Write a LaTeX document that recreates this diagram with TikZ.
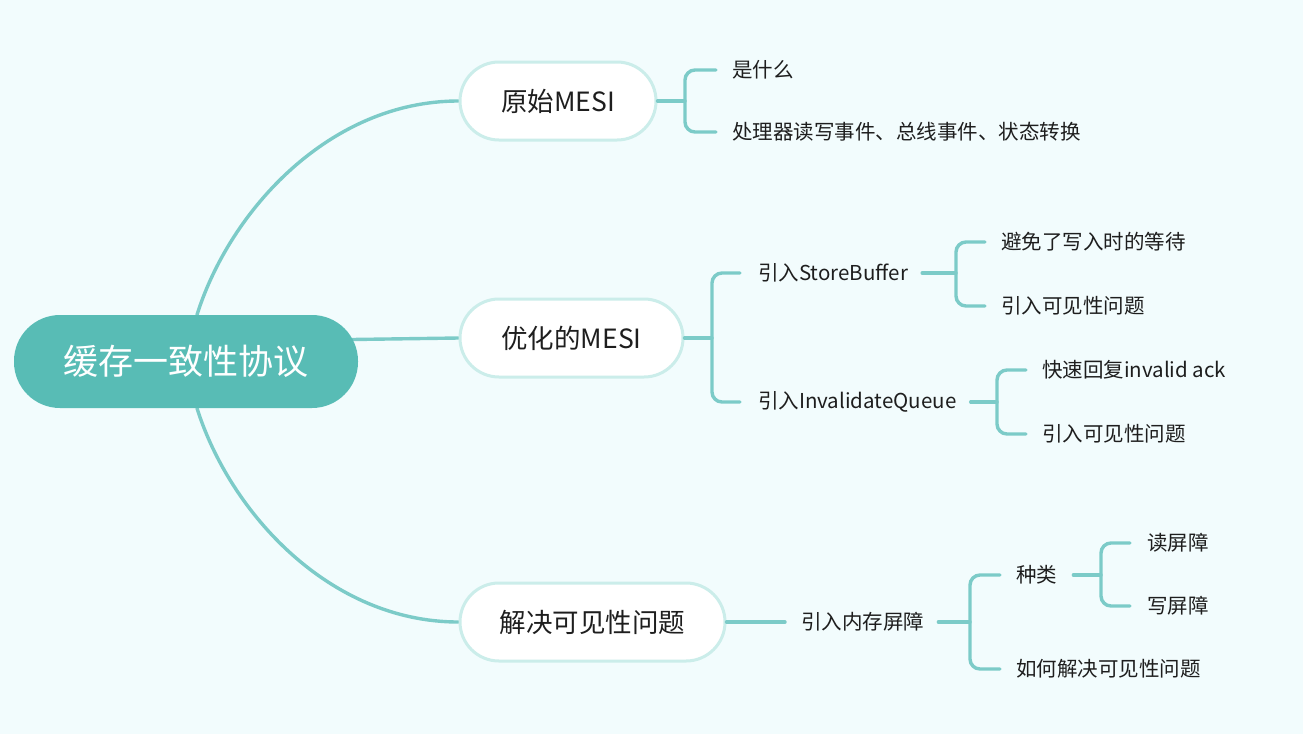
\documentclass[tikz,border=0pt]{standalone}
\usepackage{fontspec}
\setmainfont{Noto Sans CJK SC}
\definecolor{bgc}{HTML}{F2FCFD}
\definecolor{linec}{HTML}{7CCBC8}
\definecolor{rootc}{HTML}{58BCB5}
\definecolor{ovalc}{HTML}{CBEDEA}
\definecolor{txtc}{HTML}{1E1E1E}
\pgfdeclarelayer{back}
\pgfdeclarelayer{mid}
\pgfsetlayers{back,mid,main}
\tikzset{
  conn/.style={draw=linec, line width=3.4pt, line cap=round},
  brk/.style={conn, rounded corners=10pt},
  rootbox/.style={fill=rootc, rounded corners=46pt, minimum width=344pt, minimum height=93pt, inner sep=0pt, text=white, font=\fontsize{35}{40}\selectfont},
  mainbox/.style={draw=ovalc, line width=3pt, fill=white, rounded corners=39pt, minimum height=78pt, inner sep=0pt, text=txtc, font=\fontsize{26.5}{30}\selectfont},
  leaf/.style={anchor=west, inner sep=0pt, text=txtc, font=\fontsize{20.5}{24}\selectfont}
}
\begin{document}
\begin{tikzpicture}[x=1pt,y=-1pt]
\begin{pgfonlayer}{back}
\fill[bgc] (0,0) rectangle (1303,734);
\end{pgfonlayer}
\useasboundingbox (0,0) rectangle (1303,734);

% root and main nodes
\node[rootbox] (root) at (186,361.5) {缓存一致性协议};
\node[mainbox, minimum width=196pt] (n1) at (558,101) {原始MESI};
\node[mainbox, minimum width=223pt] (n2) at (571.5,338) {优化的MESI};
\node[mainbox, minimum width=265pt] (n3) at (592.5,622) {解决可见性问题};

% root connectors
\begin{pgfonlayer}{mid}
\draw[conn] ([xshift=11pt]root.north) .. controls (230,210) and (330,101) .. (n1.west);
\draw[conn] ([xshift=11pt]root.south) .. controls (230,513) and (330,622) .. (n3.west);
\draw[conn] ([xshift=-6pt,yshift=22pt]root.east) -- (n2.west);
\end{pgfonlayer}

% leaves
\node[leaf] (a1) at (732,70) {是什么};
\node[leaf] (a2) at (732,132) {处理器读写事件、总线事件、状态转换};
\node[leaf] (s1) at (758,273) {引入StoreBuffer};
\node[leaf] (s2) at (758,402) {引入InvalidateQueue};
\node[leaf] (t1) at (1001,242) {避免了写入时的等待};
\node[leaf] (t2) at (1001,306) {引入可见性问题};
\node[leaf] (u1) at (1042,370) {快速回复invalid ack};
\node[leaf] (u2) at (1042,434) {引入可见性问题};
\node[leaf] (m1) at (801,622) {引入内存屏障};
\node[leaf] (k1) at (1016,575) {种类};
\node[leaf] (k2) at (1016,669) {如何解决可见性问题};
\node[leaf] (r1) at (1147,543) {读屏障};
\node[leaf] (r2) at (1147,606) {写屏障};

% bracket junctions
\coordinate (b1) at (685,101);
\coordinate (b2) at (712,338);
\coordinate (b3) at (956,274);
\coordinate (b4) at (997,402);
\coordinate (b5) at (970,622);
\coordinate (b6) at (1101,575);

% n1
\draw[conn] (n1.east) -- (b1 |- n1.east);
\draw[brk] ([xshift=-16pt]a1.west) -- (b1 |- a1.west) -- (b1 |- a2.west) -- ([xshift=-16pt]a2.west);
% n2
\draw[conn] (n2.east) -- (b2 |- n2.east);
\draw[brk] ([xshift=-18pt]s1.west) -- (b2 |- s1.west) -- (b2 |- s2.west) -- ([xshift=-18pt]s2.west);
% StoreBuffer
\draw[conn] ([xshift=14pt]s1.east) -- (b3 |- s1.east);
\draw[brk] ([xshift=-16pt]t1.west) -- (b3 |- t1.west) -- (b3 |- t2.west) -- ([xshift=-16pt]t2.west);
% InvalidateQueue
\draw[conn] ([xshift=14pt]s2.east) -- (b4 |- s2.east);
\draw[brk] ([xshift=-16pt]u1.west) -- (b4 |- u1.west) -- (b4 |- u2.west) -- ([xshift=-16pt]u2.west);
% n3
\draw[conn] (n3.east) -- ([xshift=-16pt]m1.west);
\draw[conn] ([xshift=14pt]m1.east) -- (b5 |- m1.east);
\draw[brk] ([xshift=-16pt]k1.west) -- (b5 |- k1.west) -- (b5 |- k2.west) -- ([xshift=-16pt]k2.west);
% 种类
\draw[conn] ([xshift=16pt]k1.east) -- (b6 |- k1.east);
\draw[brk] ([xshift=-17pt]r1.west) -- (b6 |- r1.west) -- (b6 |- r2.west) -- ([xshift=-17pt]r2.west);
\end{tikzpicture}
\end{document}
